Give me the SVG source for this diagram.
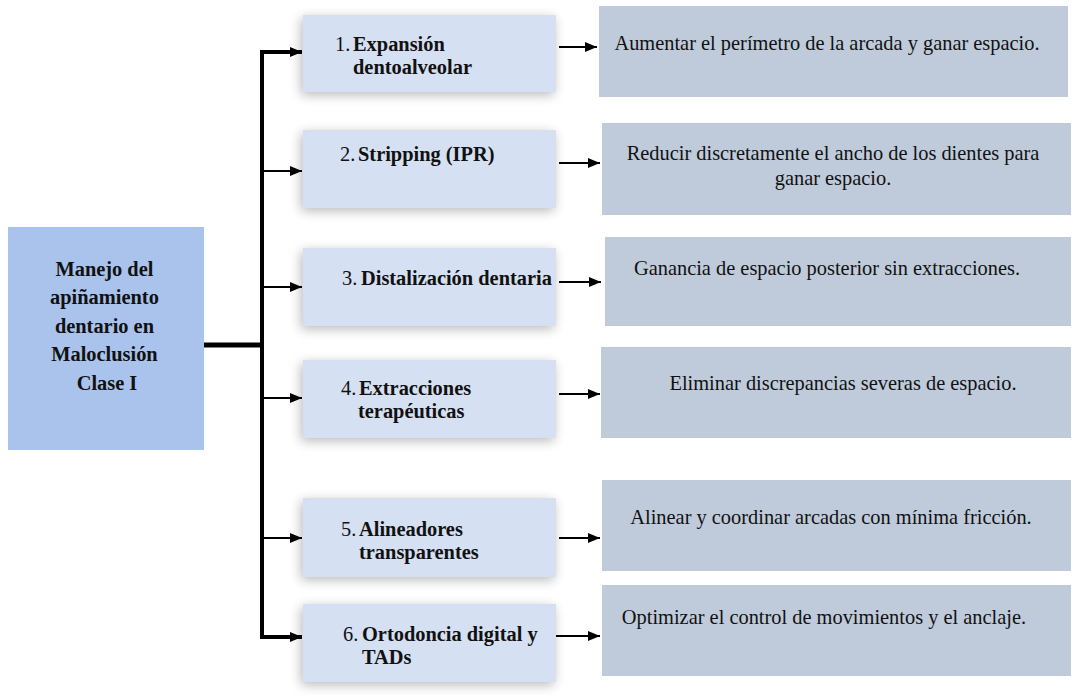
<svg xmlns="http://www.w3.org/2000/svg" width="1076" height="695" viewBox="0 0 1076 695">
<defs>
<style>
text{font-family:'Liberation Serif','Times New Roman','DejaVu Serif',serif;fill:#111;}
.b{font-weight:bold;font-size:20.4px;}
.r{font-size:20.4px;}
.mid{fill:#d6e0f3;}
.res{fill:#bfcbdb;}
.ln{stroke:#000;stroke-width:2;fill:none;}
</style>
<marker id="ah" viewBox="0 0 12 10" refX="12" refY="5" markerWidth="13" markerHeight="10" markerUnits="userSpaceOnUse" orient="auto">
<path d="M0,0 L12,5 L0,10 Z" fill="#000"/>
</marker>
<filter id="sh" x="-20%" y="-40%" width="140%" height="180%">
<feGaussianBlur in="SourceAlpha" stdDeviation="6"/>
<feOffset dx="-2" dy="3" result="b"/>
<feComponentTransfer><feFuncA type="linear" slope="0.28"/></feComponentTransfer>
<feMerge><feMergeNode/><feMergeNode in="SourceGraphic"/></feMerge>
</filter>
</defs>
<rect width="1076" height="695" fill="#fff"/>

<g id="connectors">
<line x1="204" y1="345" x2="262" y2="345" stroke="#000" stroke-width="5"/>
<path d="M302,52 H262 V637 H302" stroke="#000" stroke-width="4" fill="none"/>
<line class="ln" x1="262" y1="52" x2="302" y2="52" marker-end="url(#ah)"/>
<line class="ln" x1="262" y1="171" x2="302" y2="171" marker-end="url(#ah)"/>
<line class="ln" x1="262" y1="287" x2="302" y2="287" marker-end="url(#ah)"/>
<line class="ln" x1="262" y1="398" x2="302" y2="398" marker-end="url(#ah)"/>
<line class="ln" x1="262" y1="538" x2="302" y2="538" marker-end="url(#ah)"/>
<line class="ln" x1="262" y1="637" x2="302" y2="637" marker-end="url(#ah)"/>
<line class="ln" x1="559" y1="47" x2="597" y2="47" marker-end="url(#ah)"/>
<line class="ln" x1="559" y1="163" x2="600" y2="163" marker-end="url(#ah)"/>
<line class="ln" x1="559" y1="282" x2="601" y2="282" marker-end="url(#ah)"/>
<line class="ln" x1="559" y1="394" x2="600" y2="394" marker-end="url(#ah)"/>
<line class="ln" x1="559" y1="538" x2="600" y2="538" marker-end="url(#ah)"/>
<line class="ln" x1="556" y1="636" x2="600" y2="636" marker-end="url(#ah)"/>
</g>

<g id="root">
<rect x="8" y="227" width="196" height="223" fill="#a9c3ec"/>
<text class="b" text-anchor="middle">
<tspan x="107" y="276">Manejo del</tspan>
<tspan x="107" y="304">apiñamiento</tspan>
<tspan x="107" y="333">dentario en</tspan>
<tspan x="107" y="361">Maloclusión</tspan>
<tspan x="107" y="390">Clase I</tspan>
</text>
</g>

<g id="n1">
<rect class="mid" x="303" y="15" width="253" height="77" filter="url(#sh)"/>
<text class="b"><tspan x="335" y="51" font-weight="normal">1.</tspan><tspan x="353" y="51">Expansión</tspan><tspan x="353" y="74">dentoalveolar</tspan></text>
</g>
<g id="n2">
<rect class="mid" x="303" y="130" width="253" height="78" filter="url(#sh)"/>
<text class="b"><tspan x="340" y="161" font-weight="normal">2.</tspan><tspan x="358" y="161">Stripping (IPR)</tspan></text>
</g>
<g id="n3">
<rect class="mid" x="303" y="248" width="253" height="78" filter="url(#sh)"/>
<text class="b"><tspan x="342" y="285" font-weight="normal">3.</tspan><tspan x="361" y="285">Distalización dentaria</tspan></text>
</g>
<g id="n4">
<rect class="mid" x="303" y="360" width="253" height="78" filter="url(#sh)"/>
<text class="b"><tspan x="341" y="395" font-weight="normal">4.</tspan><tspan x="359" y="395">Extracciones</tspan><tspan x="358" y="418">terapéuticas</tspan></text>
</g>
<g id="n5">
<rect class="mid" x="303" y="498" width="253" height="79" filter="url(#sh)"/>
<text class="b"><tspan x="341" y="536" font-weight="normal">5.</tspan><tspan x="359" y="536">Alineadores</tspan><tspan x="359" y="559">transparentes</tspan></text>
</g>
<g id="n6">
<rect class="mid" x="303" y="604" width="253" height="78" filter="url(#sh)"/>
<text class="b"><tspan x="343" y="641" font-weight="normal">6.</tspan><tspan x="362" y="641">Ortodoncia digital y</tspan><tspan x="362" y="664">TADs</tspan></text>
</g>

<g id="r1">
<rect class="res" x="599" y="6" width="469" height="91"/>
<text class="r" x="827" y="50" text-anchor="middle">Aumentar el perímetro de la arcada y ganar espacio.</text>
</g>
<g id="r2">
<rect class="res" x="602" y="123" width="469" height="92"/>
<text class="r" text-anchor="middle"><tspan x="833" y="160">Reducir discretamente el ancho de los dientes para</tspan><tspan x="833" y="185">ganar espacio.</tspan></text>
</g>
<g id="r3">
<rect class="res" x="605" y="237" width="466" height="89"/>
<text class="r" x="827" y="275" text-anchor="middle">Ganancia de espacio posterior sin extracciones.</text>
</g>
<g id="r4">
<rect class="res" x="601" y="347" width="470" height="91"/>
<text class="r" x="843" y="390" text-anchor="middle">Eliminar discrepancias severas de espacio.</text>
</g>
<g id="r5">
<rect class="res" x="602" y="480" width="469" height="91"/>
<text class="r" x="831" y="524" text-anchor="middle">Alinear y coordinar arcadas con mínima fricción.</text>
</g>
<g id="r6">
<rect class="res" x="602" y="585" width="469" height="91"/>
<text class="r" x="824" y="624" text-anchor="middle">Optimizar el control de movimientos y el anclaje.</text>
</g>
</svg>
